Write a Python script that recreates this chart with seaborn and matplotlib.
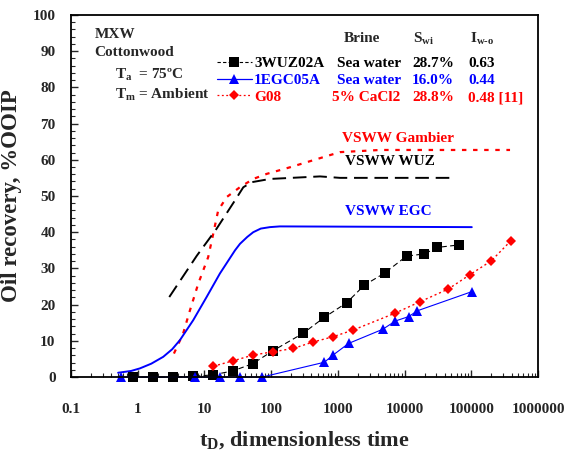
import matplotlib
matplotlib.use("Agg")
import matplotlib.pyplot as plt
import seaborn as sns
import pandas as pd
from matplotlib.lines import Line2D
from matplotlib.ticker import LogLocator, MultipleLocator, FuncFormatter, NullFormatter

# ─── data ───────────────────────────────────────────────────────────────────
wuz_t = [0.84, 1.68, 3.35, 6.7, 13.3, 26.6, 53, 107, 302, 628, 1350, 2500, 5000,
         10700, 19700, 31000, 66000]
wuz_r = [0.0, 0.0, 0.0, 0.2, 0.6, 1.7, 3.7, 7.3, 12.1, 16.5, 20.5, 25.4, 28.7,
         33.4, 34.0, 35.8, 36.5]

egc_t = [0.56, 7.2, 17.1, 34, 73, 628, 850, 1450, 4700, 7300, 11500, 15500, 102000]
egc_r = [0.0, 0.0, 0.0, 0.0, 0.0, 4.1, 6.1, 9.3, 13.2, 15.5, 16.7, 18.3, 23.6]

g08_t = [13.6, 27, 54, 108, 214, 428, 832, 1700, 7100, 17000, 45000, 94000,
         199000, 390000]
g08_r = [3.0, 4.5, 6.1, 7.0, 7.9, 9.7, 11.1, 13.0, 17.6, 20.8, 24.3, 28.2, 32.1, 37.6]

# VSWW scaled curves
vs_egc_t = [0.51, 0.8, 1.08, 1.6, 2.42, 3.3, 4.3, 6.8, 10.8, 17.1, 28.8, 34.2, 44,
            54, 70, 96, 135, 101600]
vs_egc_r = [1.2, 1.7, 2.4, 3.7, 5.6, 7.7, 10.2, 15.7, 22.1, 28.6, 35.0, 36.8, 38.7,
            40.0, 41.0, 41.4, 41.6, 41.4]

vs_wuz_t = [2.98, 7.7, 15.3, 28.8, 38.3, 51, 96, 540, 1080, 48000]
vs_wuz_r = [22.1, 33.5, 41.0, 48.8, 52.4, 53.8, 54.7, 55.4, 55.0, 55.0]

vs_gam_t = [3.5, 4.8, 6.1, 8.1, 11.4, 13.6, 16.1, 21.6, 34, 54, 86, 190, 1070, 4300, 380000]
vs_gam_r = [6.5, 12.0, 18.5, 25.8, 33.1, 39.6, 46.0, 49.7, 52.4, 54.7, 56.1, 57.9, 62.1,
            62.7, 62.7]

# ─── style ──────────────────────────────────────────────────────────────────
sns.set_style("ticks")
plt.rcParams["font.family"] = ["Liberation Serif", "DejaVu Serif"]
plt.rcParams["font.weight"] = "bold"
plt.rcParams["axes.labelweight"] = "bold"
plt.rcParams["mathtext.fontset"] = "custom"
plt.rcParams["mathtext.rm"] = "Liberation Serif:bold"
plt.rcParams["mathtext.it"] = "Liberation Serif:bold"
plt.rcParams["mathtext.bf"] = "Liberation Serif:bold"
plt.rcParams["mathtext.default"] = "rm"

BLUE, RED = "#0000ff", "#ff0000"

fig = plt.figure(figsize=(5.67, 4.5), dpi=100)
ax = fig.add_axes([0.125, 0.162, 0.824, 0.805])

def line(t, r, **kw):
    sns.lineplot(data=pd.DataFrame({"t": t, "r": r}), x="t", y="r", sort=False,
                 estimator=None, ax=ax, **kw)

line(vs_gam_t, vs_gam_r, color=RED, linestyle=(0, (2, 3)), linewidth=1.6)
line(vs_wuz_t, vs_wuz_r, color="black", linestyle=(0, (7, 3.5)), linewidth=1.4)
line(vs_egc_t, vs_egc_r, color=BLUE, linestyle="-", linewidth=1.4)
line(wuz_t, wuz_r, color="black", linestyle=(0, (5, 3)), linewidth=0.8,
     marker="s", markersize=6.5, markeredgewidth=0, clip_on=False)
line(egc_t, egc_r, color=BLUE, linestyle="-", linewidth=0.8,
     marker="^", markersize=7.5, markeredgewidth=0, clip_on=False)
line(g08_t, g08_r, color=RED, linestyle=(0, (1.5, 2)), linewidth=1.0,
     marker="D", markersize=5.5, markeredgewidth=0, clip_on=False)

ax.set_xscale("log")
ax.set_xlim(0.1, 1e6)
ax.set_ylim(0, 100)
ax.xaxis.set_major_locator(LogLocator(base=10, numticks=10))
ax.xaxis.set_minor_locator(LogLocator(base=10, subs=range(2, 10), numticks=100))
ax.xaxis.set_minor_formatter(NullFormatter())
ax.xaxis.set_major_formatter(FuncFormatter(lambda v, _: "0.1" if v < 1 else f"{int(round(v))}"))
ax.yaxis.set_major_locator(MultipleLocator(10))
ax.yaxis.set_minor_locator(MultipleLocator(2))
ax.tick_params(which="both", direction="in", labelsize=11, top=False, right=False)
ax.tick_params(which="major", length=5, width=1.0)
ax.tick_params(which="minor", length=3, width=0.8)
ax.tick_params(axis="x", pad=19)
ax.tick_params(axis="y", pad=11)
for s in ax.spines.values():
    s.set_linewidth(1.3)
    s.set_color("black")
for lbl in ax.get_xticklabels() + ax.get_yticklabels():
    lbl.set_fontweight("bold")

ax.set_xlabel("t$_\\mathrm{D}$, dimensionless time", fontsize=16, fontweight="bold",
              labelpad=9)
ax.set_ylabel("Oil recovery, %OOIP", fontsize=16.5, fontweight="bold")
ax.yaxis.set_label_coords(-0.105, 0.5)

# ─── annotations ────────────────────────────────────────────────────────────
tx = dict(transform=ax.transAxes, fontsize=11, va="center", ha="left")
ax.text(0.051, 0.945, "MXW", **tx)
ax.text(0.051, 0.895, "Cottonwood", **tx)
ax.text(0.094, 0.834, "T$_\\mathrm{a}$  = 75ºC", **tx)
ax.text(0.094, 0.779, "T$_\\mathrm{m}$ = Ambient", **tx)

ax.text(0.585, 0.934, "Brine", **tx)
ax.text(0.732, 0.934, "S$_\\mathrm{wi}$", **tx)
ax.text(0.854, 0.934, "I$_\\mathrm{w\\text{-}o}$", **tx)

rows = [
    ("3WUZ02A", "Sea water", "28.7%", "0.63", "black", 0.570),
    ("1EGC05A", "Sea water", "16.0%", "0.44", BLUE, 0.570),
    ("G08", "5% CaCl2", "28.8%", "0.48 [11]", RED, 0.559),
]
row_y = [0.867, 0.818, 0.771]
for (name, brine, swi, iwo, col, bx), y in zip(rows, row_y):
    ax.text(0.392, y, name, color=col, **tx)
    ax.text(bx, y, brine, color=col, **tx)
    ax.text(0.730, y, swi, color=col, **tx)
    ax.text(0.850, y, iwo, color=col, **tx)

handles = [
    Line2D([], [], color="black", linestyle=(0, (3, 2)), linewidth=0.8, marker="s",
           markersize=6.5, markeredgewidth=0),
    Line2D([], [], color=BLUE, linestyle="-", linewidth=0.9, marker="^",
           markersize=7.5, markeredgewidth=0),
    Line2D([], [], color=RED, linestyle=(0, (1.5, 2)), linewidth=0.9, marker="D",
           markersize=5.5, markeredgewidth=0),
]
ax.legend(handles=handles, labels=[" ", " ", " "], loc="upper left",
          bbox_to_anchor=(0.312, 0.885), frameon=False, handlelength=2.3,
          handletextpad=0.0, labelspacing=0.2, borderpad=0, borderaxespad=0,
          fontsize=11)

ax.text(0.580, 0.660, "VSWW Gambier", color=RED, **tx)
ax.text(0.587, 0.594, "VSWW WUZ", color="black", **tx)
ax.text(0.587, 0.456, "VSWW EGC", color=BLUE, **tx)

fig.savefig("out.png", dpi=100)
